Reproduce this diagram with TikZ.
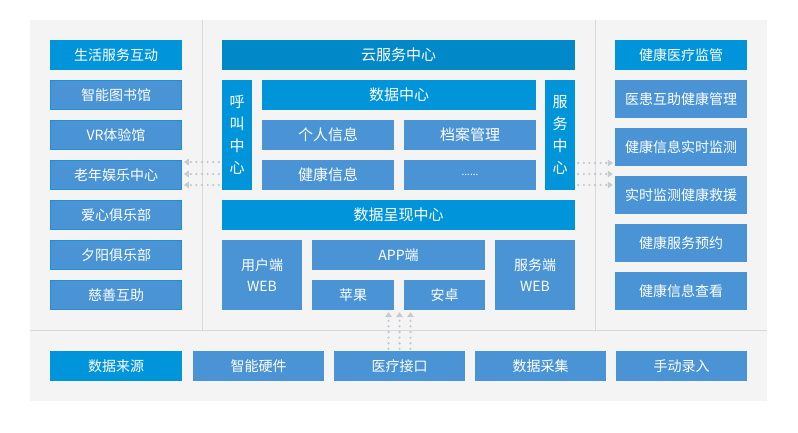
\documentclass[tikz,border=0pt]{standalone}
\usepackage{fontspec}
\newfontfamily\cjk{Noto Sans CJK SC}
\usetikzlibrary{arrows.meta}
\definecolor{panel}{HTML}{F4F4F4}
\definecolor{divline}{HTML}{D9D9D9}
\definecolor{headblue}{HTML}{0095DA}
\definecolor{cloudblue}{HTML}{0088C9}
\definecolor{itemblue}{HTML}{4A94D5}
\definecolor{itemborder}{HTML}{1E90DA}
\definecolor{dotgray}{HTML}{C6CBD1}
\tikzset{
  box/.style={rectangle, inner sep=0pt, text=white, font=\cjk\fontsize{14}{21}\selectfont, align=center},
  head/.style={box, fill=headblue},
  cloudbox/.style={box, fill=cloudblue},
  item/.style={box, fill=itemblue},
  leftitem/.style={box, fill=itemblue, draw=itemborder, line width=0.8pt},
  midtext/.style={font=\cjk\fontsize{15}{21}\selectfont},
  vtext/.style={font=\cjk\fontsize{15}{22}\selectfont},
  dotline/.style={draw=dotgray, line width=2.6pt, line cap=round, dash pattern=on 0pt off 5.6pt,
     -{Triangle[width=7pt,length=5pt,fill=dotgray,line width=0pt]}},
}
\begin{document}
\begin{tikzpicture}[x=1pt,y=-1pt]
\useasboundingbox (0,0) rectangle (798,432);
\fill[white] (0,0) rectangle (798,432);
\fill[panel] (30,20) rectangle (767,401);
\draw[divline, line width=1pt] (202.5,20) -- (202.5,330);
\draw[divline, line width=1pt] (595.5,20) -- (595.5,330);
\draw[divline, line width=1pt] (30,330.5) -- (767,330.5);

% left column
\node[head, minimum width=132pt, minimum height=30pt] (life) at (116,55) {生活服务互动};
\node[leftitem, minimum width=131pt, minimum height=29pt] (lib) at (116,95) {智能图书馆};
\node[leftitem, minimum width=131pt, minimum height=29pt] (vr) at (116,135) {VR体验馆};
\node[leftitem, minimum width=131pt, minimum height=29pt] (leisure) at (116,175) {老年娱乐中心};
\node[leftitem, minimum width=131pt, minimum height=29pt] (love) at (116,215) {爱心俱乐部};
\node[leftitem, minimum width=131pt, minimum height=29pt] (sunset) at (116,255) {夕阳俱乐部};
\node[leftitem, minimum width=131pt, minimum height=29pt] (charity) at (116,295) {慈善互助};

% center
\node[cloudbox, midtext, minimum width=353pt, minimum height=30pt] (cloud) at (398.5,55) {云服务中心};
\node[head, vtext, minimum width=30pt, minimum height=110pt] (call) at (237,135) {呼\\叫\\中\\心};
\node[head, midtext, minimum width=274pt, minimum height=30pt] (datac) at (399,95) {数据中心};
\node[item, midtext, minimum width=132pt, minimum height=30pt] (personal) at (328,135) {个人信息};
\node[item, midtext, minimum width=132pt, minimum height=30pt] (archive) at (470,135) {档案管理};
\node[item, midtext, minimum width=132pt, minimum height=30pt] (healthinfo) at (328,175) {健康信息};
\node[item, minimum width=132pt, minimum height=30pt, font=\cjk\fontsize{10}{10}\selectfont] (more) at (470,175) {......};
\node[head, vtext, minimum width=30pt, minimum height=110pt] (service) at (560,135) {服\\务\\中\\心};
\node[head, midtext, minimum width=353pt, minimum height=30pt] (present) at (398.5,215) {数据呈现中心};
\node[item, minimum width=80pt, minimum height=70pt] (userweb) at (262,275) {用户端\\WEB};
\node[item, minimum width=173pt, minimum height=30pt] (app) at (398.5,255) {APP端};
\node[item, minimum width=82pt, minimum height=30pt] (apple) at (353,295) {苹果};
\node[item, minimum width=81pt, minimum height=30pt] (android) at (444.5,295) {安卓};
\node[item, minimum width=80pt, minimum height=70pt] (serverweb) at (535,275) {服务端\\WEB};

% right column
\node[head, minimum width=132pt, minimum height=30pt] (supervise) at (681,55) {健康医疗监管};
\node[item, minimum width=132pt, minimum height=38pt] (mutual) at (681,99) {医患互助健康管理};
\node[item, minimum width=132pt, minimum height=38pt] (monitor) at (681,147) {健康信息实时监测};
\node[item, minimum width=132pt, minimum height=38pt] (rescue) at (681,195) {实时监测健康救援};
\node[item, minimum width=132pt, minimum height=38pt] (appoint) at (681,243) {健康服务预约};
\node[item, minimum width=132pt, minimum height=38pt] (view) at (681,291) {健康信息查看};

% bottom row
\node[head, minimum width=132pt, minimum height=30pt] (source) at (116,366) {数据来源};
\node[item, minimum width=131pt, minimum height=30pt] (hardware) at (258.5,366) {智能硬件};
\node[item, minimum width=131pt, minimum height=30pt] (medif) at (399.5,366) {医疗接口};
\node[item, minimum width=131pt, minimum height=30pt] (collect) at (540.5,366) {数据采集};
\node[item, minimum width=131pt, minimum height=30pt] (manual) at (681.5,366) {手动录入};

% left arrows
\foreach \s in {-27,-39,-50}{
  \coordinate (la) at ([yshift=\s pt]call.west);
  \draw[dotline, shorten <=3pt, shorten >=2pt] (la) -- (la -| leisure.east);
}
% right arrows
\foreach \s in {-28,-39,-50}{
  \coordinate (ra) at ([yshift=\s pt]service.east);
  \draw[dotline, shorten <=3pt, shorten >=2pt] (ra) -- (ra -| rescue.west);
}
% bottom arrows
\foreach \s in {-11,0,11}{
  \coordinate (ba) at ([xshift=\s pt]medif.north);
  \draw[dotline, shorten <=2pt, shorten >=2pt] (ba) -- (ba |- apple.south);
}
\end{tikzpicture}
\end{document}
